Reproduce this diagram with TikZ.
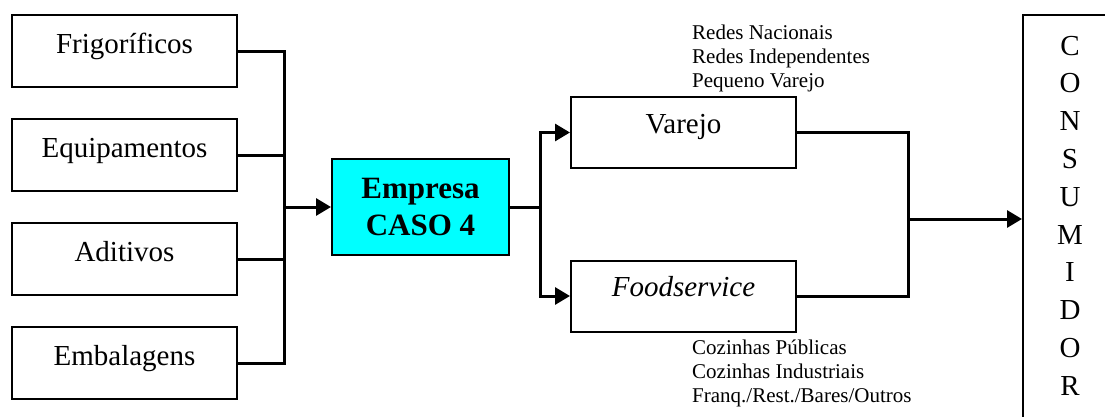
\documentclass[tikz,border=0pt]{standalone}
\usepackage{fontspec}
\setmainfont{Liberation Serif}
\usetikzlibrary{arrows.meta}
\tikzset{
  box/.style={draw=black, line width=2pt, rectangle, inner sep=0pt, minimum width=225pt, font={\fontsize{29}{33}\selectfont}},
  leftbox/.style={box, minimum height=72pt, text height=20pt, text depth=15pt},
  midbox/.style={box, minimum height=71pt, text height=20pt, text depth=19pt},
  empbox/.style={draw=black, line width=2pt, fill={rgb,255:red,0;green,255;blue,255}, inner sep=0pt,
    minimum width=177pt, minimum height=96pt, align=center, font={\fontsize{31}{36.7}\selectfont\bfseries}},
  consbox/.style={draw=black, line width=2pt, inner sep=0pt, minimum width=87pt, minimum height=410pt},
  conn/.style={line width=3pt, draw=black},
  arr/.style={conn, -{Triangle[length=15pt,width=17pt]}},
  note/.style={anchor=base west, inner sep=0pt, font={\fontsize{21}{24}\selectfont}},
  letter/.style={anchor=base, inner sep=0pt, font={\fontsize{29}{33}\selectfont}}
}
\begin{document}
\begin{tikzpicture}[x=1pt, y=-1pt]
\useasboundingbox (0,0) rectangle (1105,416);
\fill[white] (0,0) rectangle (1105,416);
\clip (0,0) rectangle (1105,416);

% left boxes
\node[leftbox] (frig) at (124.5,51) {Frigoríficos};
\node[leftbox] (equip) at (124.5,155) {Equipamentos};
\node[leftbox] (adit) at (124.5,259) {Aditivos};
\node[leftbox] (emb) at (124.5,363) {Embalagens};

% central company
\node[empbox] (emp) at (420.5,207) {Empresa\\CASO 4};

% channels
\node[midbox] (var) at (683.5,132.5) {Varejo};
\node[midbox] (food) at (683.5,296) {\itshape Foodservice};

% consumer
\node[consbox] (cons) at (1066.5,220) {};
\foreach \l [count=\i from 0] in {C,O,N,S,U,M,I,D,O,R}
  \node[letter] (cl\i) at (1070,{55+37.8*\i}) {\l};

% notes
\node[note] (n1) at (692,39) {Redes Nacionais};
\node[note] (n2) at (692,63) {Redes Independentes};
\node[note] (n3) at (692,87) {Pequeno Varejo};
\node[note] (f1) at (692,354) {Cozinhas Públicas};
\node[note] (f2) at (692,378) {Cozinhas Industriais};
\node[note] (f3) at (692,402) {Franq./Rest./Bares/Outros};

% connectors
\coordinate (bus) at (284,207);
\coordinate (split) at (540,207);
\coordinate (join) at (908,219);

\draw[conn] (frig.east) -| (bus);
\draw[conn] (equip.east) -| (bus);
\draw[conn] (adit.east) -| (bus);
\draw[conn] (emb.east) -| (bus);
\draw[arr] (bus) -- (emp.west);

\draw[conn] (emp.east) -- (split);
\draw[arr] (split) |- (var.west);
\draw[arr] (split) |- (food.west);

\draw[conn] (var.east) -| (join);
\draw[conn] (food.east) -| (join);
\draw[arr] (join) -- (cons.west |- join);
\end{tikzpicture}
\end{document}
